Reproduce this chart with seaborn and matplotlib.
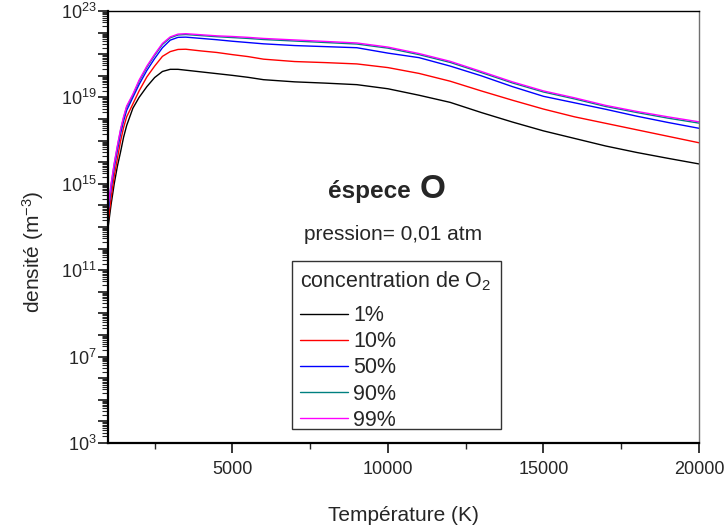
import numpy as np
import pandas as pd
import seaborn as sns
import matplotlib
matplotlib.use("Agg")
import matplotlib.pyplot as plt
from matplotlib.patches import Rectangle
from matplotlib.transforms import IdentityTransform
from matplotlib.ticker import LogLocator, FuncFormatter, FixedLocator, NullFormatter

# Temperature grid (K)
temperature = [1000, 1100, 1200, 1300, 1400, 1500, 1600, 1800, 2000, 2250, 2500, 2750,
               3000, 3250, 3500, 4000, 4500, 5000, 5500, 6000, 7000, 8000, 9000, 10000,
               11000, 12000, 13000, 14000, 15000, 16000, 17000, 18000, 19000, 20000]

# log10 of the O density (m^-3) for each O2 concentration
log_n_1 = [12.95, 14.05, 15.0, 15.8, 16.45, 17.15, 17.7, 18.5, 19.0, 19.5, 19.92, 20.2,
           20.3, 20.3, 20.26, 20.18, 20.1, 20.02, 19.93, 19.82, 19.72, 19.66, 19.59, 19.4,
           19.1, 18.77, 18.3, 17.86, 17.45, 17.1, 16.75, 16.45, 16.18, 15.92]
log_n_10 = [13.2, 14.35, 15.35, 16.15, 16.95, 17.6, 18.1, 18.7, 19.3, 19.95, 20.45, 20.9,
            21.12, 21.22, 21.23, 21.15, 21.08, 20.98, 20.89, 20.77, 20.66, 20.61, 20.55, 20.38,
            20.11, 19.75, 19.3, 18.87, 18.46, 18.1, 17.8, 17.5, 17.2, 16.9]
log_n_50 = [13.65, 14.8, 15.75, 16.55, 17.3, 17.9, 18.4, 19.0, 19.6, 20.25, 20.8, 21.3,
            21.65, 21.78, 21.79, 21.73, 21.67, 21.6, 21.54, 21.48, 21.4, 21.35, 21.3, 21.05,
            20.84, 20.45, 20.0, 19.5, 19.05, 18.75, 18.45, 18.13, 17.84, 17.57]
log_n_90 = [13.85, 14.95, 15.9, 16.7, 17.45, 18.05, 18.55, 19.1, 19.75, 20.4, 20.95, 21.45,
            21.76, 21.89, 21.91, 21.86, 21.81, 21.77, 21.73, 21.68, 21.61, 21.54, 21.47, 21.28,
            20.98, 20.62, 20.15, 19.67, 19.25, 18.93, 18.58, 18.3, 18.04, 17.81]
log_n_99 = [13.9, 15.0, 15.95, 16.75, 17.5, 18.1, 18.6, 19.15, 19.8, 20.45, 21.0, 21.5,
            21.8, 21.93, 21.95, 21.9, 21.85, 21.82, 21.78, 21.73, 21.66, 21.59, 21.52, 21.33,
            21.03, 20.67, 20.2, 19.72, 19.3, 18.98, 18.63, 18.35, 18.1, 17.87]

concentrations = ["1%", "10%", "50%", "90%", "99%"]
colors = ["#000000", "#FF0000", "#0000FF", "#008080", "#FF00FF"]

frames = []
for label, logs in zip(concentrations, [log_n_1, log_n_10, log_n_50, log_n_90, log_n_99]):
    frames.append(pd.DataFrame({"T": temperature,
                                "n": np.power(10.0, logs),
                                "conc": label}))
df = pd.concat(frames, ignore_index=True)

sns.set_style("ticks")
plt.rcParams["font.family"] = ["Liberation Sans", "DejaVu Sans"]
plt.rcParams["mathtext.fontset"] = "custom"
plt.rcParams["mathtext.rm"] = "Liberation Sans"
plt.rcParams["mathtext.it"] = "Liberation Sans:italic"
plt.rcParams["mathtext.bf"] = "Liberation Sans:bold"

fig = plt.figure(figsize=(7.26, 5.30), dpi=100)
ax = fig.add_axes([108 / 726, 1 - 443 / 530, 591 / 726, 432 / 530])

sns.lineplot(data=df, x="T", y="n", hue="conc", hue_order=concentrations,
             palette=dict(zip(concentrations, colors)), linewidth=1.0,
             ax=ax, legend=True)

ax.set_yscale("log")
ax.set_xlim(1000, 20000)
ax.set_ylim(1e3, 1e23)

# x ticks
ax.xaxis.set_major_locator(FixedLocator([5000, 10000, 15000, 20000]))
ax.xaxis.set_minor_locator(FixedLocator([2500, 7500, 12500, 17500]))
ax.tick_params(axis="x", which="major", direction="out", length=7, width=1.3,
               labelsize=13, pad=6, top=False)
ax.tick_params(axis="x", which="minor", direction="out", length=4, width=1.0, top=False)

# y ticks: every decade, labelled every fourth decade
ax.yaxis.set_major_locator(LogLocator(base=10, numticks=40))
ax.yaxis.set_minor_locator(LogLocator(base=10, subs=np.arange(2, 10), numticks=40))
ax.yaxis.set_minor_formatter(NullFormatter())


def decade_label(v, pos):
    e = int(round(np.log10(v)))
    if (e - 3) % 4 == 0:
        return r"$\mathdefault{10^{%d}}$" % e
    return ""


ax.yaxis.set_major_formatter(FuncFormatter(decade_label))
ax.tick_params(axis="y", which="major", direction="out", length=7, width=1.3,
               labelsize=13, pad=1, right=False)
ax.tick_params(axis="y", which="minor", direction="out", length=4, width=0.8, right=False)

for side in ["left", "bottom"]:
    ax.spines[side].set_linewidth(1.6)
    ax.spines[side].set_color("black")
ax.spines["top"].set_linewidth(1.0)
ax.spines["top"].set_color("black")
ax.spines["right"].set_linewidth(1.0)
ax.spines["right"].set_color("#707070")

ax.set_xlabel("Température (K)", fontsize=15, labelpad=20)
ax.set_ylabel("densité (m$^{-3}$)", fontsize=15, labelpad=11, y=0.442)

# annotation text
ax.text(0.372, 0.567, "éspece", transform=ax.transAxes, fontsize=17.5,
        fontweight="bold", ha="left", va="baseline")
ax.text(0.528, 0.567, "O", transform=ax.transAxes, fontsize=24,
        fontweight="bold", ha="left", va="baseline")
ax.text(0.483, 0.470, "pression= 0,01 atm", transform=ax.transAxes, fontsize=15,
        ha="center", va="baseline")

handles, labels = ax.get_legend_handles_labels()
leg = ax.legend(handles, labels, title="concentration de O$_2$",
                loc="upper left", bbox_to_anchor=(0.311, 0.421), borderaxespad=0,
                fontsize=15.5, title_fontsize=15.5, frameon=False,
                handlelength=2.2, handletextpad=0.25, labelspacing=0.24,
                borderpad=0.4, alignment="left")
leg._legend_box.sep = 8.5

# legend box with a tighter bottom margin than the default padding
fig.canvas.draw()
bb = leg.get_window_extent()
trim = 10
box = Rectangle((bb.x0, bb.y0 + trim), bb.width, bb.height - trim,
                transform=IdentityTransform(), facecolor="white",
                edgecolor="#333333", linewidth=1.0, zorder=4.5)
ax.add_artist(box)

fig.savefig("out.png", dpi=100)
